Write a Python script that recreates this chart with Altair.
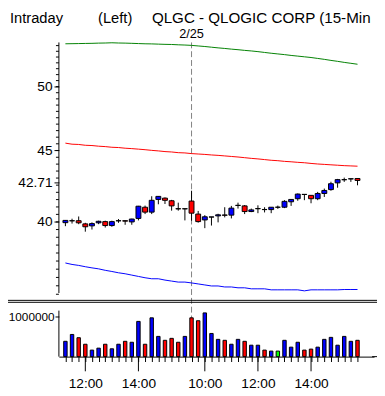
import altair as alt
import numpy as np
import pandas as pd

# ---------------- data ----------------
times = ["11:15", "11:30", "11:45", "12:00", "12:15", "12:30", "12:45", "13:00", "13:15", "13:30",
         "13:45", "14:00", "14:15", "14:30", "14:45", "15:00", "15:15", "15:30", "15:45",
         "09:30", "09:45", "10:00", "10:15", "10:30", "10:45", "11:00", "11:15", "11:30", "11:45",
         "12:00", "12:15", "12:30", "12:45", "13:00", "13:15", "13:30", "13:45", "14:00", "14:15",
         "14:30", "14:45", "15:00", "15:15", "15:30", "15:45"]

open_ = [39.95, 40.07, 40.08, 39.87, 39.74, 39.94, 40.02, 39.76, 40.07, 40.08,
         40.00, 40.23, 40.98, 40.65, 41.51, 41.60, 41.42, 40.88, 40.87,
         41.40, 40.52, 40.13, 40.32, 40.40, 40.46, 40.45, 41.10, 41.07, 40.69,
         40.88, 40.83, 40.82, 40.98, 40.98, 41.35, 41.56, 41.86, 41.79, 41.56,
         41.92, 42.19, 42.66, 42.88, 42.94, 42.97]
high = [40.12, 40.21, 40.36, 39.94, 39.97, 40.08, 40.08, 40.08, 40.19, 40.10,
        40.21, 41.07, 41.09, 41.73, 41.73, 41.65, 41.48, 41.29, 40.88,
        42.11, 40.73, 40.45, 40.33, 40.54, 40.98, 41.07, 41.29, 41.13, 40.89,
        41.11, 40.98, 40.98, 41.09, 41.46, 41.53, 41.92, 41.86, 41.80, 42.03,
        42.26, 42.74, 42.94, 43.03, 42.95, 42.97]
low = [39.72, 39.89, 39.85, 39.36, 39.50, 39.85, 39.63, 39.68, 39.94, 39.81,
       39.81, 40.10, 40.52, 40.52, 41.18, 41.20, 40.75, 40.75, 40.10,
       40.08, 39.95, 39.59, 39.76, 39.97, 40.30, 40.23, 40.89, 40.52, 40.65,
       40.58, 40.63, 40.58, 40.87, 40.92, 41.07, 41.42, 41.46, 41.25, 41.46,
       41.68, 42.11, 42.32, 42.73, 42.73, 42.49]
close = [40.10, 40.08, 39.94, 39.68, 39.89, 40.04, 39.76, 40.02, 40.08, 40.05,
         40.19, 41.05, 40.65, 41.45, 41.72, 41.45, 41.07, 40.87, 40.88,
         40.58, 40.02, 40.34, 40.33, 40.47, 40.44, 40.92, 41.11, 40.69, 40.80,
         40.89, 40.82, 40.98, 40.98, 41.38, 41.51, 41.88, 41.85, 41.56, 41.92,
         42.13, 42.60, 42.89, 42.89, 42.95, 42.83]
volume = [385000, 557000, 475000, 311000, 164000, 213000, 311000, 197000, 311000, 385000,
          361000, 885000, 311000, 975000, 508000, 410000, 459000, 361000, 508000,
          975000, 902000, 1098000, 582000, 434000, 410000, 311000, 434000, 385000, 287000,
          287000, 164000, 139000, 139000, 410000, 238000, 361000, 164000, 189000, 238000,
          434000, 484000, 287000, 508000, 385000, 410000]
upper = [53.66, 53.67, 53.68, 53.69, 53.70, 53.72, 53.73, 53.75, 53.73, 53.72,
         53.70, 53.68, 53.66, 53.65, 53.63, 53.61, 53.60, 53.57, 53.55,
         53.52, 53.47, 53.42, 53.36, 53.30, 53.25, 53.19, 53.14, 53.08, 53.03,
         52.97, 52.90, 52.83, 52.77, 52.71, 52.64, 52.58, 52.52, 52.46, 52.38,
         52.30, 52.21, 52.13, 52.04, 51.96, 51.88]
middle = [45.55, 45.47, 45.45, 45.39, 45.37, 45.32, 45.29, 45.24, 45.22, 45.17,
          45.14, 45.10, 45.06, 45.01, 44.97, 44.92, 44.89, 44.84, 44.82,
          44.77, 44.74, 44.71, 44.67, 44.64, 44.60, 44.56, 44.52, 44.47, 44.42,
          44.38, 44.33, 44.28, 44.25, 44.20, 44.17, 44.13, 44.10, 44.05, 44.01,
          43.98, 43.95, 43.92, 43.89, 43.87, 43.85]
lower = [37.38, 37.29, 37.23, 37.15, 37.08, 37.02, 36.93, 36.86, 36.78, 36.72,
         36.64, 36.56, 36.48, 36.42, 36.42, 36.34, 36.28, 36.22, 36.22,
         36.17, 36.11, 36.05, 35.99, 35.99, 35.93, 35.93, 35.88, 35.88, 35.82,
         35.82, 35.82, 35.76, 35.76, 35.76, 35.76, 35.76, 35.70, 35.76, 35.76,
         35.76, 35.76, 35.76, 35.78, 35.78, 35.78]

price_major = [40, 45, 50]
last_price = 42.71
price_minor = [float(v) for v in np.arange(35.5, 54.0, 0.5)]
volume_ticks = [1000000]
hour_labels = ["10:00", "12:00", "14:00"]
day_start = 19
day_label = "2/25"
title_parts = ["Intraday", "(Left)", "QLGC - QLOGIC CORP (15-Min"]

# ---------------- tables ----------------
df = pd.DataFrame({"i": np.arange(len(times)), "time": times, "open": open_, "high": high,
                   "low": low, "close": close, "volume": volume,
                   "upper": upper, "middle": middle, "lower": lower})
df["dir"] = np.where(df["close"] > df["open"], "up",
                     np.where(df["close"] < df["open"], "down", "flat"))
hour_idx = [int(k) for k, t in enumerate(times) if t in hour_labels]
hours_df = pd.DataFrame({"i": hour_idx})
minor_df = pd.DataFrame({"v": price_minor})
day_df = pd.DataFrame({"i": [day_start], "t": [day_label]})

FONT = "Liberation Sans"
xs = alt.Scale(domain=[-0.243, 45.757], nice=False, zero=False)
py = alt.Scale(type="log", domain=[32.03, 53.78], nice=False)
vy = alt.Scale(domain=[0, 7893000], nice=False, zero=False)
dir_scale = alt.Scale(domain=["up", "down", "flat"], range=["#0000ff", "#ff0000", "#00ff00"])

label_expr = " : ".join(f"datum.value == {k} ? '{times[k]}'" for k in hour_idx) + " : ''"

x_axis = alt.Axis(values=list(range(len(times))), title=None, grid=False,
                  labelExpr=label_expr, labelFont=FONT, labelFontSize=14, labelColor="black",
                  labelPadding=16, labelOverlap=False, labelFlush=False,
                  domainColor="black", tickColor="black", tickSize=5, orient="bottom")

major_list = price_major + [last_price]
p_axis = alt.Axis(values=major_list, title=None, grid=False, domain=False, orient="left",
                  labelExpr=f"datum.value == {last_price} ? '{last_price}' : format(datum.value, 'd')",
                  labelFont=FONT, labelFontSize=14, labelColor="black", labelPadding=2,
                  tickColor="black", labelOverlap=False, tickSize=5)
v_axis = alt.Axis(values=volume_ticks, title=None, grid=False, domain=False, orient="left",
                  labelExpr="format(datum.value, 'd')", labelFont=FONT, labelFontSize=12,
                  labelColor="black", labelPadding=1, tickColor="black", tickSize=4)

base = alt.Chart(df)
X = alt.X("i:Q", scale=xs, axis=x_axis)


def PY(field):
    return alt.Y(field, scale=py, axis=p_axis)


one = pd.DataFrame({"k": [0]})

dash = alt.Chart(day_df).mark_rule(color="#808080", strokeDash=[6, 3], strokeWidth=1).encode(
    x=X, y=alt.value(0), y2=alt.value(321))

lines = []
for col, colr in [("upper", "#008000"), ("middle", "#ff0000"), ("lower", "#0000ff")]:
    lines.append(base.mark_line(color=colr, strokeWidth=1).encode(x=X, y=PY(f"{col}:Q")))

wick = base.mark_rule(color="black", strokeWidth=1).encode(x=X, y=PY("low:Q"), y2="high:Q")
body = base.mark_bar(size=5, stroke="black", strokeWidth=1).encode(
    x=X, y=PY("open:Q"), y2="close:Q",
    color=alt.Color("dir:N", scale=dir_scale, legend=None))
minor_ticks = alt.Chart(minor_df).mark_rule(color="black").encode(
    x=alt.value(-3), x2=alt.value(0), y=PY("v:Q"))

# frame lines
frame = [
    alt.Chart(one).mark_rule(color="black").encode(x=alt.value(0), y=alt.value(0), y2=alt.value(256)),
    alt.Chart(one).mark_rule(color="black").encode(x=alt.value(0), y=alt.value(274), y2=alt.value(321)),
    alt.Chart(one).mark_rule(color="black").encode(x=alt.value(-60), x2=alt.value(330), y=alt.value(263.5)),
    alt.Chart(one).mark_rule(color="black").encode(x=alt.value(-60), x2=alt.value(330), y=alt.value(265.5)),
    alt.Chart(one).mark_rule(color="black").encode(x=alt.value(320), x2=alt.value(330), y=alt.value(321)),
]
hour_ticks = alt.Chart(hours_df).mark_rule(color="black").encode(
    x=X, y=alt.value(321), y2=alt.value(336))

texts = [
    alt.Chart(pd.DataFrame({"t": [title_parts[0]]})).mark_text(
        font=FONT, fontSize=15, align="left", baseline="alphabetic", color="black").encode(
        text="t:N", x=alt.value(-50), y=alt.value(-20)),
    alt.Chart(pd.DataFrame({"t": [title_parts[1]]})).mark_text(
        font=FONT, fontSize=15, align="left", baseline="alphabetic", color="black").encode(
        text="t:N", x=alt.value(40), y=alt.value(-20)),
    alt.Chart(pd.DataFrame({"t": [title_parts[2]]})).mark_text(
        font=FONT, fontSize=15.5, align="left", baseline="alphabetic", color="black").encode(
        text="t:N", x=alt.value(95), y=alt.value(-20)),
    alt.Chart(day_df).mark_text(
        font=FONT, fontSize=13, align="center", baseline="alphabetic", color="black").encode(
        text="t:N", x=X, y=alt.value(-4.5)),
]

price = alt.layer(dash, *lines, minor_ticks, wick, body, *frame, hour_ticks, *texts)

vol = base.mark_bar(size=3.5, stroke="black", strokeWidth=1).encode(
    x=X,
    y=alt.Y("volume:Q", scale=vy, axis=v_axis),
    color=alt.Color("dir:N", scale=dir_scale, legend=None))

chart = alt.layer(price, vol).resolve_scale(y="independent").properties(
    width=322, height=321,
    autosize=alt.AutoSizeParams(type="none"),
    padding={"left": 52, "top": 31, "right": 3, "bottom": 34},
).configure_view(stroke=None)

chart.save("out.html", embed_options={"renderer": "svg", "actions": False})
